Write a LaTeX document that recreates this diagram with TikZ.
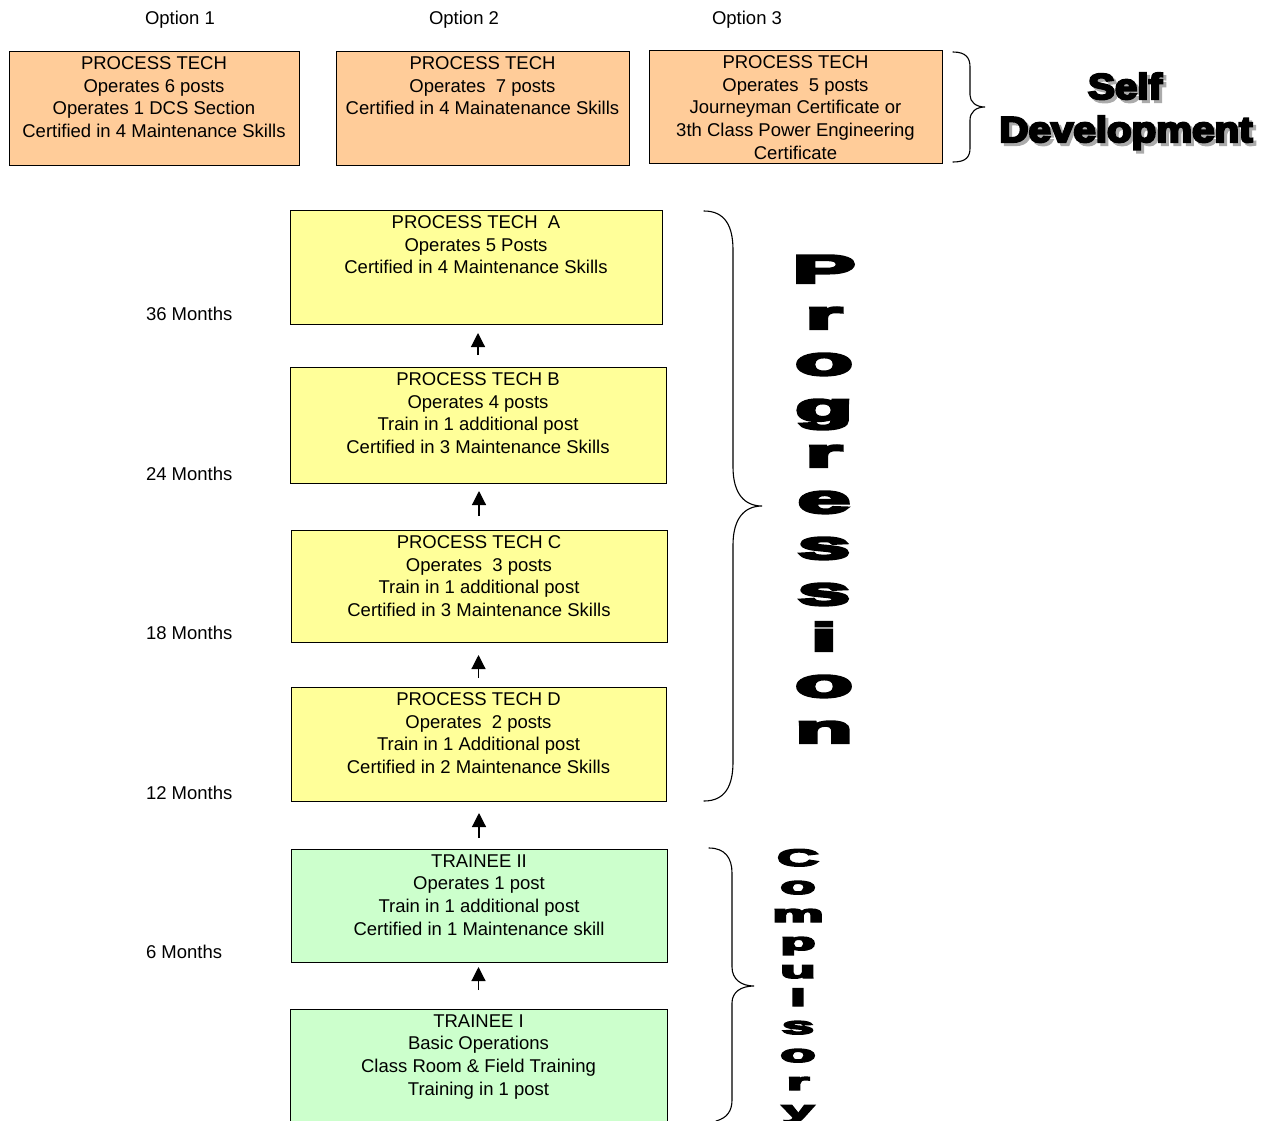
\documentclass[tikz,border=0pt]{standalone}
\usepackage{fontspec}
\setmainfont{Liberation Sans}
\newfontfamily\heavyfont[FakeBold=6]{Liberation Sans Bold}
\usetikzlibrary{arrows.meta}
\definecolor{peach}{HTML}{FFCC99}
\definecolor{lemon}{HTML}{FFFF99}
\definecolor{mint}{HTML}{CCFFCC}
\definecolor{shade}{HTML}{ABABAB}

\begin{document}
\begin{tikzpicture}[x=1pt,y=-1pt,
  every node/.style={inner sep=0pt, outer sep=0pt},
  box/.style={draw=black, line width=0.9pt, rectangle, anchor=north west},
  obox/.style={box, fill=peach},
  ybox/.style={box, fill=lemon},
  gbox/.style={box, fill=mint},
  boxtext/.style={anchor=north, align=center, yshift=-5.5pt,
    font=\fontsize{18.5}{22.7}\selectfont},
  plain/.style={anchor=base, font=\fontsize{18.5}{22.7}\selectfont},
  month/.style={anchor=base west, font=\fontsize{18.5}{22.7}\selectfont},
  progletter/.style={anchor=base, font=\heavyfont\fontsize{40}{40}\selectfont},
  completter/.style={anchor=base, font=\heavyfont\fontsize{24}{24}\selectfont},
  sdtext/.style={anchor=base, font=\heavyfont\fontsize{36}{36}\selectfont},
  arr/.style={line width=1.2pt, -{Triangle[width=14pt,length=14pt]}},
  bracket/.style={line width=1.1pt, line cap=round}
]
\useasboundingbox (0,0) rectangle (1261,1120);
\clip (0,0) rectangle (1261,1120);

% option headings
\node[plain] (lab1) at (180,24.5) {Option 1};
\node[plain] (lab2) at (464,24.5) {Option 2};
\node[plain] (lab3) at (747,24.5) {Option 3};

% option boxes
\node[obox, minimum width=290pt, minimum height=114pt] (opt1) at (9,51) {};
\node[obox, minimum width=293pt, minimum height=114pt] (opt2) at (336,51) {};
\node[obox, minimum width=293pt, minimum height=113pt] (opt3) at (649,50) {};
\node[boxtext] (opt1t) at (opt1.north) {PROCESS TECH\\Operates 6 posts\\Operates 1 DCS Section\\Certified in 4 Maintenance Skills};
\node[boxtext] (opt2t) at (opt2.north) {PROCESS TECH\\Operates\ \ 7 posts\\Certified in 4 Mainatenance Skills};
\node[boxtext] (opt3t) at (opt3.north) {PROCESS TECH\\Operates\ \ 5 posts\\Journeyman Certificate or\\3th Class Power Engineering\\Certificate};

% progression boxes
\node[ybox, minimum width=372pt, minimum height=114pt] (ta) at (290,210) {};
\node[ybox, minimum width=376pt, minimum height=116pt] (tb) at (290,367) {};
\node[ybox, minimum width=376pt, minimum height=112pt] (tc) at (291,530) {};
\node[ybox, minimum width=375pt, minimum height=114pt] (td) at (291,687) {};
\node[gbox, minimum width=376pt, minimum height=113pt] (t2) at (291,849) {};
\node[gbox, minimum width=377pt, minimum height=131pt] (t1) at (290,1009) {};

\node[boxtext] (tat) at (ta.north) {PROCESS TECH\ \ A\\Operates 5 Posts\\Certified in 4 Maintenance Skills};
\node[boxtext] (tbt) at (tb.north) {PROCESS TECH B\\Operates 4 posts\\Train in 1 additional post\\Certified in 3 Maintenance Skills};
\node[boxtext] (tct) at (tc.north) {PROCESS TECH C\\Operates\ \ 3 posts\\Train in 1 additional post\\Certified in 3 Maintenance Skills};
\node[boxtext] (tdt) at (td.north) {PROCESS TECH D\\Operates\ \ 2 posts\\Train in 1 Additional post\\Certified in 2 Maintenance Skills};
\node[boxtext] (t2t) at (t2.north) {TRAINEE II\\Operates 1 post\\Train in 1 additional post\\Certified in 1 Maintenance skill};
\node[boxtext] (t1t) at (t1.north) {TRAINEE I\\Basic Operations\\Class Room \& Field Training\\Training in 1 post};

% time scale
\node[month] (m36) at (146,320) {36 Months};
\node[month] (m24) at (146,480) {24 Months};
\node[month] (m18) at (146,639) {18 Months};
\node[month] (m12) at (146,799) {12 Months};
\node[month] (m6)  at (146,958) {6 Months};

% step arrows
\draw[arr, shorten <=12pt, shorten >=9pt]  (tb.north) -- (tb.north |- ta.south);
\draw[arr, shorten <=14pt, shorten >=8pt]  (tc.north) -- (tc.north |- tb.south);
\draw[arr, shorten <=9pt,  shorten >=13pt] (td.north) -- (td.north |- tc.south);
\draw[arr, shorten <=11pt, shorten >=12pt] (t2.north) -- (t2.north |- td.south);
\draw[arr, shorten <=19pt, shorten >=5pt]  (t1.north) -- (t1.north |- t2.south);

% braces
\draw[bracket] (953,52) .. controls (966,52) and (970,58) .. (970,67)
  -- (970,95) .. controls (970,102) and (976,107) .. (985,107)
  .. controls (976,107) and (970,112) .. (970,120)
  -- (970,148) .. controls (970,157) and (966,162) .. (953,162);
\draw[bracket] (704,211) .. controls (725,211) and (733,226) .. (733,250)
  -- (733,467) .. controls (733,493) and (744,506) .. (762,506)
  .. controls (744,506) and (733,519) .. (733,545)
  -- (733,762) .. controls (733,786) and (725,801) .. (704,801);
\draw[bracket] (709,848) .. controls (725,848) and (732,858) .. (732,873)
  -- (732,967) .. controls (732,979) and (741,986) .. (754,986)
  .. controls (741,986) and (732,992) .. (732,1003)
  -- (732,1100) .. controls (732,1111) and (727,1118) .. (716,1121);

% side captions with drop shadow
\node[sdtext, text=shade] (selfsh) at (1128,102) {\scalebox{1.12}[1]{Self}};
\node[sdtext] (self) at (1125,99) {\scalebox{1.12}[1]{Self}};
\node[sdtext, text=shade] (devsh) at (1129,145) {\scalebox{1.12}[1]{Development}};
\node[sdtext] (dev) at (1126,142) {\scalebox{1.12}[1]{Development}};

\foreach \ch [count=\k from 0] in {P,r,o,g,r,e,s,s,i,o,n}
  \node[progletter] (prog\k) at (824,{283+46*\k}) {\scalebox{2.35}[1]{\ch}};
\foreach \ch [count=\k from 0] in {C,o,m,p,u,l,s,o,r,y}
  \node[completter] (comp\k) at (798,{866+28*\k}) {\scalebox{2.4}[1]{\ch}};
\end{tikzpicture}
\end{document}
